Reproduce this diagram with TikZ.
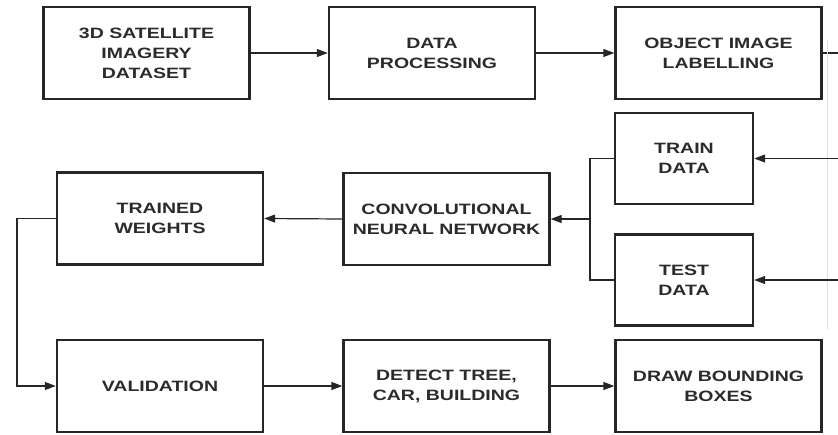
\documentclass[tikz,border=0pt]{standalone}
\usepackage{fontspec}
\setmainfont{Liberation Sans}[FakeStretch=1.3]
\usetikzlibrary{arrows.meta}
\definecolor{txt}{HTML}{2B2B2B}
\tikzset{
  box/.style={draw=black!85, line width=2.4pt, fill=white, align=center, text=txt,
    font=\fontsize{15}{20}\selectfont\bfseries, inner sep=0pt},
  wide/.style={minimum width=206pt, minimum height=92pt},
  narrow/.style={minimum width=138pt, minimum height=91pt},
  conn/.style={draw=black!85, line width=1.2pt},
  arr/.style={conn, -{Triangle[length=11pt,width=8pt]}},
}
\begin{document}
\begin{tikzpicture}[x=1pt,y=-1pt]
\useasboundingbox (0,0) rectangle (838,434);
% row 1
\node[box,wide] (ds)  at (146.5,53) {3D SATELLITE\\IMAGERY\\DATASET};
\node[box,wide] (dp)  at (432,53) {DATA\\PROCESSING};
\node[box,wide] (lab) at (718.5,53) {OBJECT IMAGE\\LABELLING};
% row 2
\node[box,wide] (tw)  at (160,218.5) {TRAINED\\WEIGHTS};
\node[box,wide] (cnn) at (446.5,219) {CONVOLUTIONAL\\NEURAL NETWORK};
\node[box,narrow] (train) at (684,158.5) {TRAIN\\DATA};
\node[box,narrow] (test)  at (684,280) {TEST\\DATA};
% row 3
\node[box,wide] (val) at (160,386) {VALIDATION};
\node[box,wide] (det) at (446.5,386) {DETECT TREE,\\CAR, BUILDING};
\node[box,wide] (bb)  at (718.5,386) {DRAW BOUNDING\\BOXES};
% connector coordinates
\coordinate (labout) at (838,53);
\coordinate (vtop) at (827,40);
\coordinate (vbot) at (827,330);
\coordinate (rtrain) at (838,158.5);
\coordinate (rtest) at (838,280);
\coordinate (bt) at (590,158.5);
\coordinate (bb2) at (590,280);
\coordinate (bm) at (590,219);
\coordinate (lt) at (17,218.5);
% connectors
\draw[arr] (ds) -- (dp);
\draw[arr] (dp) -- (lab);
\draw[conn] (lab.east) -- (labout);
\draw[draw=black!12, line width=1pt] (vtop) -- (vbot);
\draw[arr] (rtrain) -- (train.east);
\draw[arr] (rtest) -- (test.east);
\draw[conn] (train.west) -- (bt) -- (bb2) -- (test.west);
\draw[arr] (bm) -- (cnn.east);
\draw[arr] (cnn.west) -- (tw.east);
\draw[arr] (tw.west) -- (lt) |- (val.west);
\draw[arr] (val) -- (det);
\draw[arr] (det) -- (bb);
\end{tikzpicture}
\end{document}
